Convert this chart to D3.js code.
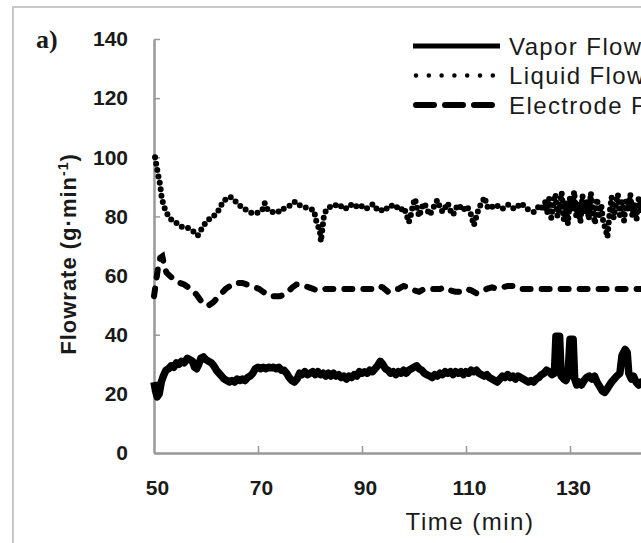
<!DOCTYPE html>
<html>
<head>
<meta charset="utf-8">
<script src="https://cdn.jsdelivr.net/npm/d3@7/dist/d3.min.js"></script>
<style>
  body { margin: 0; background: #fff; overflow: hidden; }
</style>
</head>
<body>
<script>
// data (time in min, flow in g/min)
const vaporTime = [50.0,50.3,50.6,51.0,51.4,51.8,52.3,52.8,53.3,53.8,54.3,54.8,55.3,55.8,56.4,56.9,57.4,57.8,58.2,58.6,59.0,59.5,60.0,60.5,61.0,61.5,62.0,62.5,63.0,63.5,64.0,64.5,65.0,65.5,66.0,66.5,67.0,67.5,68.0,68.5,69.0,69.5,70.0,70.5,71.0,71.5,72.0,72.5,73.0,73.5,74.0,74.5,75.0,75.5,76.0,76.5,77.0,77.5,78.0,78.5,79.0,79.5,80.0,80.5,81.0,81.5,82.0,82.5,83.0,83.5,84.0,84.5,85.0,85.5,86.0,86.5,87.0,87.5,88.0,88.5,89.0,89.5,90.0,90.5,91.0,91.5,92.0,92.5,93.0,93.5,94.0,94.5,95.0,95.5,96.0,96.5,97.0,97.5,98.0,98.5,99.0,99.5,100.0,100.5,101.0,101.5,102.0,102.5,103.0,103.5,104.0,104.5,105.0,105.5,106.0,106.5,107.0,107.5,108.0,108.5,109.0,109.5,110.0,110.5,111.0,111.5,112.0,112.5,113.0,113.5,114.0,114.5,115.0,115.5,116.0,116.5,117.0,117.5,118.0,118.5,119.0,119.5,120.0,120.5,121.0,121.5,122.0,122.5,123.0,123.5,124.0,124.5,125.0,125.5,126.0,126.5,127.0,127.3,128.0,128.3,128.8,129.2,129.6,130.0,130.6,130.9,131.3,131.7,132.2,132.7,133.2,133.7,134.2,134.7,135.2,135.7,136.2,136.7,137.1,137.6,138.0,138.5,139.0,139.6,140.0,140.6,141.0,141.3,141.8,142.2,142.7,143.2,143.7,144.5];
const vaporFlow = [24,21,19,20,24,26,28,28.5,29.5,29,30.5,30,31,30.5,32,31.5,31,29,28.5,30,32,32.5,31.5,31,30.5,29.5,28,27,26,25,24.5,24,24.5,24,25,24.5,25,24.5,25.5,26,27,28.5,29,28.5,29,28.5,29,28.8,29,28.5,29,28,28,27,25.5,24.5,24,25,27,26.5,27.5,26.5,27,27.5,26.5,27.5,26.5,27,26,27,26,27,26,26.5,25.5,26,25,26,25.5,26.5,26,27.5,27,27.5,27,28,27.5,28.5,29.5,31,30,28.5,28,27,27.5,26.5,27.5,27,28,27,28,28.5,29,29.5,28.5,28,27,26.5,26,25.5,26.5,26,27,26.5,27.5,27,27.5,26.5,27.5,27,27.5,26.5,27.5,27,28,27.5,28,27,26.5,26,26.5,25.5,25,24.5,24,25,26,25.5,26.5,25.5,26,25,26,25.5,25,24.5,24,24.5,24,25,25.5,26.5,27,28,27.5,26.5,27,39.5,39.5,26,25,24.5,26,38.5,38.5,25,23,24,23,24.5,25.5,26,25,26,24,22.5,21,20.5,21.5,23,24,25,26,27,33,35,34,27,25,26,24,23,24,23.5];

const liquidTime = [50.2,50.5,50.8,51.2,51.5,52.0,52.5,53.0,53.6,54.2,54.8,55.4,56.0,56.6,57.2,57.8,58.4,58.9,59.4,60.0,60.6,61.2,61.8,62.4,63.0,63.6,64.2,64.8,65.4,66.0,66.6,67.2,67.8,68.4,69.0,69.6,70.2,70.8,71.3,71.8,72.4,73.0,73.6,74.2,74.8,75.4,76.0,76.6,77.2,77.8,78.4,79.0,79.6,80.2,80.8,81.1,81.5,81.9,82.1,82.4,82.7,83.1,83.6,84.2,84.8,85.4,86.0,86.6,87.2,87.8,88.4,89.0,89.6,90.2,90.8,91.4,92.0,92.6,93.2,93.8,94.4,95.0,95.6,96.2,96.8,97.4,98.0,98.5,99.0,99.4,99.8,100.2,100.6,101.0,101.5,102.0,102.5,103.0,103.5,104.0,104.5,105.0,105.5,106.0,106.5,107.0,107.5,108.0,108.5,109.0,109.5,110.0,110.5,111.0,111.5,112.0,112.5,113.0,113.6,114.0,114.6,115.2,115.8,116.4,117.0,117.6,118.2,118.8,119.4,120.0,120.6,121.2,121.8,122.4,123.0,123.6,124.2,124.8,125.2,125.6,126.0,126.4,126.8,127.2,127.6,128.0,128.4,128.8,129.2,129.6,130.0,130.4,130.8,131.2,131.6,132.0,132.4,132.8,133.2,133.6,134.0,134.4,134.8,135.2,135.6,136.0,136.4,136.8,137.2,137.6,138.0,138.4,138.8,139.2,139.6,140.0,140.4,140.8,141.2,141.6,142.0,142.4,142.8,143.2,143.6,144.0];
const liquidFlow = [100,97,94,90.5,86,83,81,79.5,78.5,78,77,76.5,76.5,76,75.5,74.5,73.5,75,76.5,78,79,80,80.5,82,84,85.5,86.5,86.5,85.5,84.5,83.5,83,82,81.5,81,81,81.5,82,84.5,82.5,81.5,81.5,82,81.5,82.5,83,83.5,84.5,85,84,83.5,83,83,82.5,82,79,77,75,71.5,76,80.5,82,83,83.5,84,83,83.5,82.5,83,84,83,83.5,84,83,82.5,83.5,84,82.5,83,82,83,82.5,83.5,84,83,82,83,81,78,80.5,84,86,82.5,80,83,84.5,82.5,80.5,82,84,85.5,83,81.5,83,84.5,82,80.5,82.5,84,83,82,83.5,82.5,80.5,77,80,83,84.5,86.5,83.5,82.5,83.5,84,83,82.5,83.5,84,83,82.5,83.5,84.5,83.5,82.5,82,81.5,82.5,84,82,85,81,86,79.5,84.5,87.5,80,83,88,79,85,77.5,86.5,82,88.5,80,84,78,87,81,85.5,79,88,82.5,77.5,86,80.5,84,78,76,73,81,86.5,79.5,84,87.5,80.5,85,78.5,86,82,87.5,80,84.5,79,86,82,85];

const electrodeTime = [50.0,50.4,50.8,51.2,51.6,52.0,52.4,53.0,53.6,54.2,55.0,55.8,56.6,57.4,58.2,59.0,59.8,60.6,61.4,62.2,63.0,63.8,64.6,65.4,66.2,67.0,67.8,68.6,69.4,70.2,71.0,71.8,72.6,73.4,74.2,75.0,75.8,76.6,77.4,78.2,79.0,79.8,80.6,81.4,82.2,83,84,85,86,87,88,89,90,91,92,93,94,95,96,97,98,99,100,101,102,103,104,105,106,107,108,109,110,111,112,113,114,115,116,117,118,119,120,121,122,123,124,125,126,127,128,129,130,131,132,133,134,135,136,137,138,139,140,141,142,143,144];
const electrodeFlow = [53,58,63,66,66.5,63,61,60,59,58.5,57.5,57,56,55,53.5,51.5,50,50,51,52.5,54,55.5,56.5,57.5,57.5,57.5,57,56.5,56,55.5,54.5,53.5,53,53,53,53.5,54.5,56,57,57,56.5,56,55.5,55,55,55.5,55.5,55.5,55.5,55.5,55.5,55.5,55.5,55.5,55.5,56.5,56,54.5,55.5,55.5,56.5,56,55,54.5,55.5,55.5,55.5,55.5,56,55,54.5,54.5,55.5,55,54,54.5,55.5,56,55.5,56,56.5,56.5,55.5,55.5,55.5,55.5,55.5,55.5,55.5,55.5,55.5,55.5,55.5,55.5,55.5,55.5,55.5,55.5,55.5,55.5,55.5,55.5,55.5,55.5,55.5,55.5,55.5];

const xTicks = [50, 70, 90, 110, 130];
const yTicks = [0, 20, 40, 60, 80, 100, 120, 140];
const legendNames = ["Vapor Flow", "Liquid Flow", "Electrode Flow"];

const canvWidth = 641, canvHeight = 543;
const svg = d3.select("body").append("svg")
    .attr("width", canvWidth)
    .attr("height", canvHeight);

// light frame round the figure
svg.append("rect")
    .attr("x", 13).attr("y", 7)
    .attr("width", 700).attr("height", 600)
    .attr("fill", "none")
    .attr("stroke", "#c8c8c8")
    .attr("stroke-width", 2);

// scales: the plot runs past the right edge of the window
const xScale = d3.scaleLinear().domain([50, 170]).range([154, 778]);
const yScale = d3.scaleLinear().domain([0, 140]).range([453, 39]);

const axisColor = "#999";
const labelFont = "'Liberation Sans', Arial, sans-serif";

// x axis, ticks pointing inward
const xAxis = d3.axisBottom(xScale).tickValues(xTicks)
    .tickSizeInner(-7).tickSizeOuter(0).tickPadding(27);
const gx = svg.append("g")
    .attr("transform", "translate(0," + yScale(0) + ")")
    .call(xAxis);

// y axis
const yAxis = d3.axisLeft(yScale).tickValues(yTicks)
    .tickSizeInner(-6).tickSizeOuter(0).tickPadding(26);
const gy = svg.append("g")
    .attr("transform", "translate(" + xScale(50) + ",0)")
    .call(yAxis);

[gx, gy].forEach(g => {
    g.select(".domain").attr("stroke", axisColor).attr("stroke-width", 2.5);
    g.selectAll(".tick line").attr("stroke", axisColor).attr("stroke-width", 1.5);
    g.selectAll(".tick text")
        .attr("fill", "#1a1a1a")
        .attr("font-family", labelFont)
        .attr("font-weight", "bold")
        .attr("font-size", "21px");
});
gx.selectAll(".tick").filter(d => d === 50).select("line").remove();
gx.selectAll(".tick text").attr("dx", 3);

// series
const line = d3.line().x(d => xScale(d[0])).y(d => yScale(d[1]));

const vapor = vaporTime.map((t, i) => [t, vaporFlow[i]]);
const liquid = liquidTime.map((t, i) => [t, liquidFlow[i]]);
const electrode = electrodeTime.map((t, i) => [t, electrodeFlow[i]]);

svg.append("path").datum(electrode)
    .attr("d", line)
    .attr("fill", "none").attr("stroke", "#000")
    .attr("stroke-width", 6)
    .attr("stroke-linecap", "round")
    .attr("stroke-dasharray", "8,11");

svg.append("path").datum(liquid)
    .attr("d", line)
    .attr("fill", "none").attr("stroke", "#000")
    .attr("stroke-width", 6)
    .attr("stroke-linecap", "round")
    .attr("stroke-dasharray", "0,6.5");

svg.append("path").datum(vapor)
    .attr("d", line)
    .attr("fill", "none").attr("stroke", "#000")
    .attr("stroke-width", 7.5)
    .attr("stroke-linejoin", "round");

// legend
const legendStyles = [
    {w: 5, dash: null, cap: "butt"},
    {w: 4.5, dash: "0,12.8", cap: "round"},
    {w: 6, dash: "18,11", cap: "round"}
];
const legend = svg.append("g").attr("transform", "translate(413,46)");
legendNames.forEach((name, i) => {
    const row = legend.append("g").attr("transform", "translate(0," + (i * 29.5) + ")");
    const s = legendStyles[i];
    row.append("line")
        .attr("x1", i === 0 ? 0 : 3).attr("x2", i === 0 ? 87 : 85)
        .attr("stroke", "#000")
        .attr("stroke-width", s.w)
        .attr("stroke-linecap", s.cap)
        .attr("stroke-dasharray", s.dash);
    row.append("text")
        .attr("x", 96).attr("dy", "0.36em")
        .attr("font-family", labelFont)
        .attr("font-size", "24px")
        .attr("letter-spacing", "1.4px")
        .attr("fill", "#1a1a1a")
        .text(name);
});

// axis titles
svg.append("text")
    .attr("x", 470).attr("y", 530)
    .attr("text-anchor", "middle")
    .attr("font-family", labelFont)
    .attr("font-size", "24px")
    .attr("letter-spacing", "1.5px")
    .attr("fill", "#1a1a1a")
    .text("Time (min)");

const yTitle = svg.append("text")
    .attr("transform", "translate(76,254) rotate(-90)")
    .attr("text-anchor", "middle")
    .attr("font-family", labelFont)
    .attr("font-size", "22px")
    .attr("font-weight", "bold")
    .attr("letter-spacing", "1px")
    .attr("fill", "#1a1a1a");
yTitle.append("tspan").text("Flowrate (g\u00b7min");
yTitle.append("tspan").attr("font-size", "14px").attr("dy", "-8").text("-1");
yTitle.append("tspan").attr("dy", "8").text(")");

// panel letter
svg.append("text")
    .attr("x", 36).attr("y", 48)
    .attr("font-family", "'Liberation Serif', 'Times New Roman', serif")
    .attr("font-weight", "bold")
    .attr("font-size", "26px")
    .attr("fill", "#1a1a1a")
    .text("a)");
</script>
</body>
</html>
